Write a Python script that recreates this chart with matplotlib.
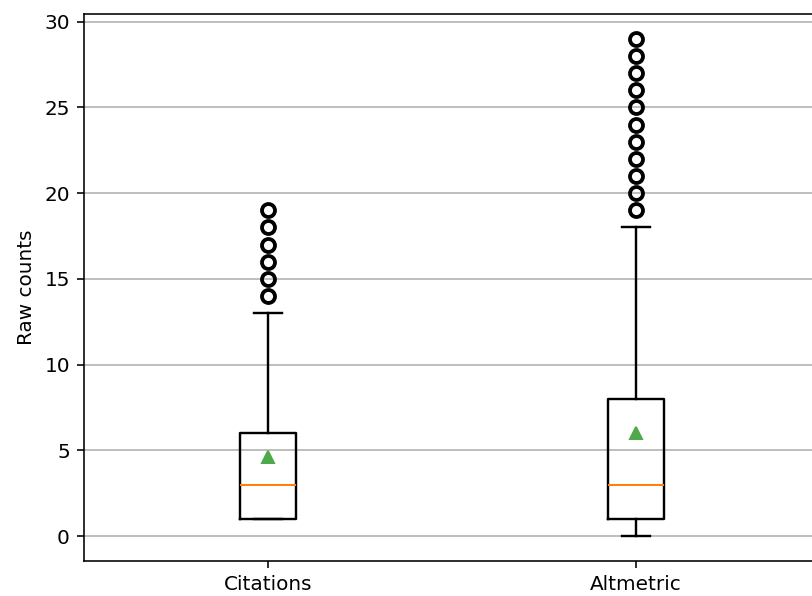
import matplotlib
matplotlib.use("Agg")
import matplotlib.pyplot as plt
import numpy as np

# box plot summary
labels = ["Citations", "Altmetric"]
whisker_lo = [1, 0]
q1 = [1, 1]
medians = [3, 3]
q3 = [6, 8]
whisker_hi = [13, 18]
means = [4.6, 6.0]
fliers_citations = [14, 15, 16, 17, 18, 19]
fliers_altmetric = [19, 20, 21, 22, 23, 24, 25, 26, 27, 28, 29]

dpi = 144
fig = plt.figure(figsize=(812 / dpi, 596 / dpi), dpi=dpi)
# axes runs past the right edge, as in the reference crop
ax = fig.add_axes([84 / 812, 35 / 596, 736 / 812, 547 / 596])

stats = []
for i, fl in enumerate([fliers_citations, fliers_altmetric]):
    stats.append({
        "label": labels[i],
        "whislo": whisker_lo[i],
        "q1": q1[i],
        "med": medians[i],
        "q3": q3[i],
        "whishi": whisker_hi[i],
        "mean": means[i],
        "fliers": np.array(fl),
    })

ax.bxp(stats, showmeans=True,
       boxprops=dict(linewidth=1.2),
       whiskerprops=dict(linewidth=1.2),
       capprops=dict(linewidth=1.2),
       flierprops=dict(marker="o", markersize=6.5, markeredgewidth=1.9,
                       markerfacecolor="none", markeredgecolor="black"),
       meanprops=dict(marker="^", markersize=6, markerfacecolor="#4fa84a",
                      markeredgecolor="#4fa84a"))
ax.yaxis.grid(True)
ax.set_axisbelow(True)
ax.set_ylabel("Raw counts")

fig.savefig("out.png", dpi=dpi)
